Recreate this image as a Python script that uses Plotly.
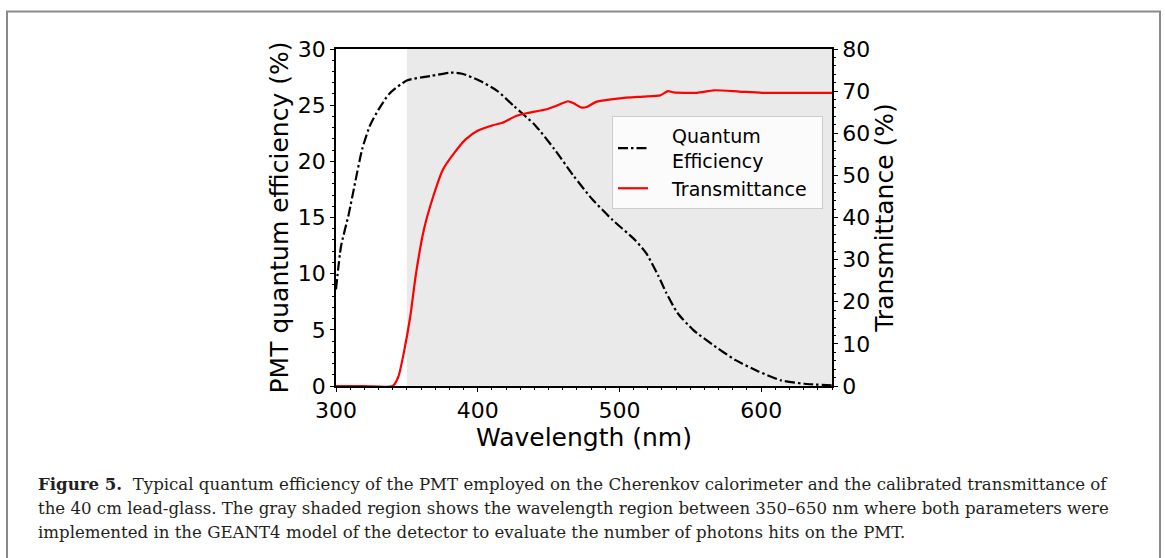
import plotly.graph_objects as go

# ---- data ----
qe_wl = [300, 303.5, 309, 313, 318.5, 324, 330, 337.5, 350, 367, 381, 389, 401, 413.5,
         425.7, 440.6, 454, 467.7, 481, 495, 511, 519, 527.5, 533, 541, 552, 565.5,
         582, 598, 614, 630.6, 650]
qe_val = [8.6, 12.4, 15.3, 17.8, 21.1, 23.2, 24.6, 26.0, 27.2, 27.6, 27.9, 27.8, 27.2, 26.3,
          24.9, 23.2, 21.1, 18.7, 16.6, 14.8, 13.0, 11.8, 9.8, 8.3, 6.5, 5.0, 3.7,
          2.3, 1.3, 0.5, 0.2, 0.05]

tr_wl = [300, 320, 340, 344, 347.8, 352.4, 356.5, 362, 368.7, 375.5, 383.6, 391.7, 399.9,
         410.7, 417.5, 427, 435, 448.8, 456.9, 463.7, 467.7, 473.2, 477.3, 484, 500.3,
         516.6, 528.8, 534.3, 538.3, 554.6, 566.8, 584.5, 600.8, 650]
tr_val = [0, 0, 0, 2.2, 7.8, 16.5, 26.8, 37.1, 45.1, 51.4, 55.4, 58.6, 60.6,
          61.9, 62.5, 64.1, 64.8, 65.7, 66.7, 67.6, 67.1, 66.1, 66.3, 67.5, 68.3,
          68.7, 69.0, 70.0, 69.7, 69.6, 70.2, 69.9, 69.6, 69.6]

shade_range = [350, 650]
x_range = [300, 650]
y1_range = [0, 30]
y2_range = [0, 80]

caption_lines = [
    "<b>Figure 5.</b>\u00a0\u00a0Typical quantum efficiency of the PMT employed on the Cherenkov calorimeter and the calibrated transmittance of",
    "the 40 cm lead-glass. The gray shaded region shows the wavelength region between 350–650 nm where both parameters were",
    "implemented in the GEANT4 model of the detector to evaluate the number of photons hits on the PMT.",
]

# ---- layout geometry (pixels) ----
W, H = 1165, 558
L, R, T, B = 336, 832, 49, 386


def px_x(p):
    return (p - L) / (R - L)


def px_y(p):
    return (B - p) / (B - T)


fig = go.Figure()

fig.add_trace(go.Scatter(
    x=qe_wl, y=qe_val, mode="lines", name="\u2003Quantum<br>\u2003Efficiency",
    line=dict(color="black", width=2.2, dash="10px,3px,2.5px,3px", shape="spline", smoothing=0.6),
    yaxis="y",
))
fig.add_trace(go.Scatter(
    x=tr_wl, y=tr_val, mode="lines", name="\u2003Transmittance\u2002",
    line=dict(color="red", width=2.2, shape="spline", smoothing=0.6),
    yaxis="y2",
))

fig.add_vrect(x0=shade_range[0], x1=shade_range[1], fillcolor="#eaeaea",
              line_width=0, layer="below")

font_main = "DejaVu Sans"
fig.update_layout(
    width=W, height=H, autosize=False,
    margin=dict(l=L, r=W - R, t=T, b=H - B, pad=0),
    paper_bgcolor="white", plot_bgcolor="white",
    font=dict(family=font_main, color="black"),
    showlegend=True,
    legend=dict(
        x=px_x(612), y=px_y(116), xanchor="left", yanchor="top",
        bgcolor="rgba(255,255,255,0.8)", bordercolor="#cccccc", borderwidth=1,
        font=dict(family=font_main, size=19, color="black"),
        valign="middle", tracegroupgap=0,
    ),
    xaxis=dict(
        range=x_range, dtick=100, tick0=300,
        showline=True, linecolor="black", linewidth=1.5, mirror=True,
        ticks="outside", ticklen=4, tickwidth=1.2, tickcolor="black",
        tickfont=dict(size=22), showgrid=False, zeroline=False,
        minor=dict(dtick=10, ticks="outside", ticklen=2, tickwidth=1, tickcolor="black", showgrid=False),
        title=dict(text="Wavelength (nm)", font=dict(size=25), standoff=4),
    ),
    yaxis=dict(
        range=y1_range, dtick=5,
        showline=True, linecolor="black", linewidth=1.5,
        ticks="outside", ticklen=4, tickwidth=1.2, tickcolor="black",
        tickfont=dict(size=22), showgrid=False, zeroline=False,
        minor=dict(dtick=1, ticks="outside", ticklen=2, tickwidth=1, tickcolor="black", showgrid=False),
        title=dict(text="PMT quantum efficiency (%)", font=dict(size=25), standoff=2),
    ),
    yaxis2=dict(
        range=y2_range, dtick=10, overlaying="y", side="right",
        showline=True, linecolor="black", linewidth=1.5,
        ticks="outside", ticklen=4, tickwidth=1.2, tickcolor="black",
        tickfont=dict(size=22), showgrid=False, zeroline=False,
        minor=dict(dtick=2, ticks="outside", ticklen=2, tickwidth=1, tickcolor="black", showgrid=False),
        title=dict(text="Transmittance (%)", font=dict(size=25), standoff=4),
    ),
)

# border frame (open at bottom)
border = dict(color="#8a8a8a", width=2)
fig.add_shape(type="line", xref="paper", yref="paper", x0=px_x(7), x1=px_x(7), y0=px_y(11), y1=px_y(560), line=border)
fig.add_shape(type="line", xref="paper", yref="paper", x0=px_x(6), x1=px_x(1161), y0=px_y(11.5), y1=px_y(11.5), line=border)
fig.add_shape(type="line", xref="paper", yref="paper", x0=px_x(1160), x1=px_x(1160), y0=px_y(11), y1=px_y(560), line=border)

# caption
for i, line in enumerate(caption_lines):
    fig.add_annotation(
        text=line, xref="paper", yref="paper", x=px_x(36), y=px_y(484 + 24 * i),
        xanchor="left", yanchor="middle", showarrow=False,
        font=dict(family="DejaVu Serif", size=16.6, color="#231f20"),
    )

fig.write_html("out.html")
